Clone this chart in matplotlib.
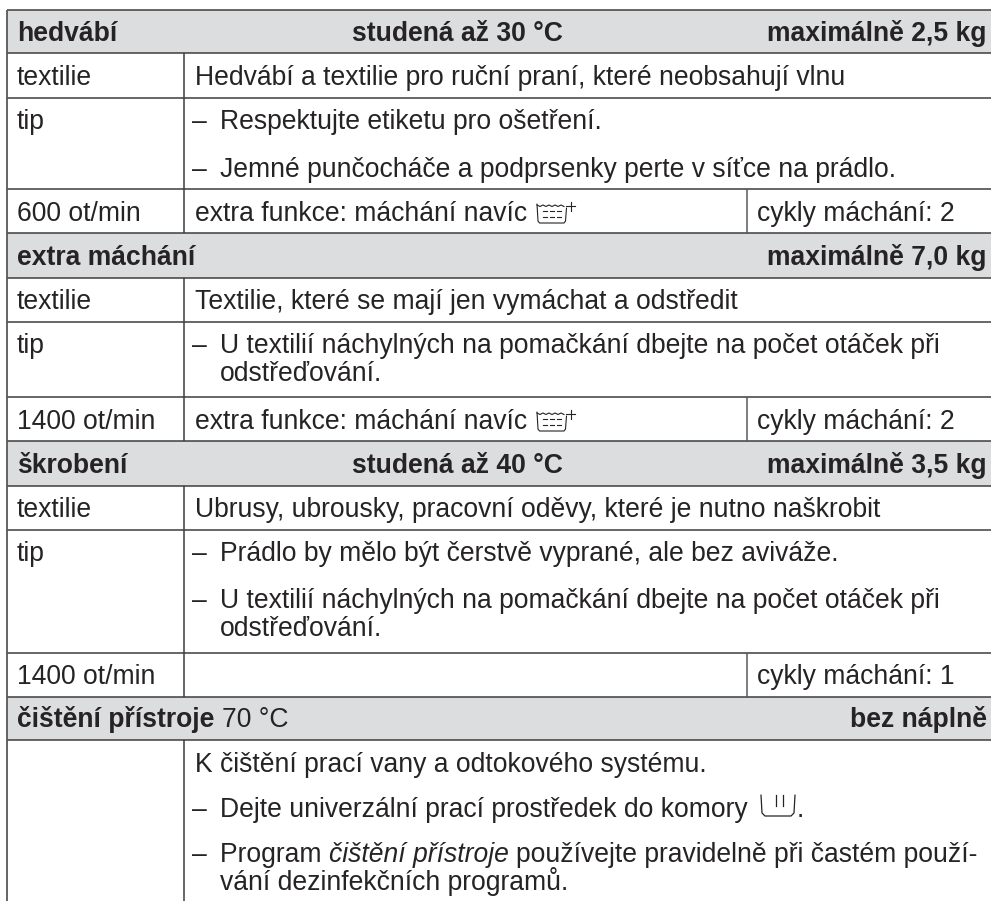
import matplotlib
matplotlib.use("Agg")
import matplotlib.pyplot as plt

plt.rcParams['font.family'] = ['Liberation Sans', 'DejaVu Sans']

TEXT = "#262324"
LINE = "#3d3d3e"
HEAD = "#dcddde"
FS = 19.1

# horizontal rules of the table, in order
rule_y = [10, 53, 98, 189, 233, 278, 322, 397, 441, 486, 530, 653, 697, 740]
header_rows = [0, 4, 8, 12]  # index into rule_y of the top of grey bands
col1_x, col2_x = 184, 747
split_rows = [3, 7, 11]  # rows that also have the third column

headers_left = ["hedvábí", "extra máchání", "škrobení", "čištění přístroje"]
headers_mid = ["studená až 30 °C", "", "studená až 40 °C", ""]
headers_right = ["maximálně 2,5 kg", "maximálně 7,0 kg", "maximálně 3,5 kg", "bez náplně"]
header_base = [41, 265, 473, 727]

left_labels = ["textilie", "tip", "600 ot/min", "textilie", "tip", "1400 ot/min",
               "textilie", "tip", "1400 ot/min"]
left_base = [85, 129, 221, 309, 353, 429, 517, 561, 684]

plain_lines = [
    ("Hedvábí a textilie pro ruční praní, které neobsahují vlnu", 85),
    ("extra funkce: máchání navíc", 221),
    ("Textilie, které se mají jen vymáchat a odstředit", 309),
    ("extra funkce: máchání navíc", 429),
    ("Ubrusy, ubrousky, pracovní oděvy, které je nutno naškrobit", 517),
    ("K čištění prací vany a odtokového systému.", 772),
]
bullet_lines = [
    ("Respektujte etiketu pro ošetření.", 129, True),
    ("Jemné punčocháče a podprsenky perte v síťce na prádlo.", 177, True),
    ("U textilií náchylných na pomačkání dbejte na počet otáček při", 353, True),
    ("odstřeďování.", 381, False),
    ("Prádlo by mělo být čerstvě vyprané, ale bez aviváže.", 561, True),
    ("U textilií náchylných na pomačkání dbejte na počet otáček při", 608, True),
    ("odstřeďování.", 636, False),
    ("Dejte univerzální prací prostředek do komory", 817, True),
    ("vání dezinfekčních programů.", 890, False),
]
cycle_labels = ["cykly máchání: 2", "cykly máchání: 2", "cykly máchání: 1"]
cycle_base = [221, 429, 684]

fig = plt.figure(figsize=(9.91, 9.01), dpi=100)
ax = fig.add_axes([0, 0, 1, 1])
ax.set_xlim(0, 991)
ax.set_ylim(901, 0)
ax.axis("off")


def put(x, y, s, **kw):
    kw.setdefault("fontsize", FS)
    kw.setdefault("color", TEXT)
    return ax.text(x, y, s, va="baseline", **kw)


def advance(s, **kw):
    # width of a run incl. trailing spaces, in pixels
    rend = fig.canvas.get_renderer()
    t1 = put(0, 0, s + ".", **kw)
    t2 = put(0, 0, ".", **kw)
    w = t1.get_window_extent(rend).width - t2.get_window_extent(rend).width
    t1.remove()
    t2.remove()
    return w


def rinse_icon(x, top):
    # tub with waves, dashes and a plus sign
    lw = 0.8
    ax.plot([x, x + 1, x + 2.5, x + 27, x + 28.5, x + 29.5],
            [top + 1, top + 18, top + 20, top + 20, top + 18, top + 5],
            color=TEXT, lw=lw, solid_capstyle="round")
    ax.plot([x, x + 3, x + 6, x + 9, x + 12, x + 15, x + 18, x + 21, x + 24, x + 27],
            [top + 2, top + 3.5, top + 2, top + 3.5, top + 2, top + 3.5, top + 2, top + 3.5, top + 2, top + 3.5],
            color=TEXT, lw=lw)
    for yy in (top + 8, top + 14):
        for xx in (x + 6, x + 13, x + 20):
            ax.plot([xx, xx + 4], [yy, yy], color=TEXT, lw=lw)
    ax.plot([x + 29, x + 38], [top + 3, top + 3], color=TEXT, lw=lw)
    ax.plot([x + 33.5, x + 33.5], [top - 1, top + 7.5], color=TEXT, lw=lw)


def compartment_icon(x, top):
    lw = 0.9
    ax.plot([x, x + 1, x + 4, x + 30, x + 33, x + 34],
            [top, top + 18, top + 21, top + 21, top + 18, top],
            color=TEXT, lw=lw, solid_capstyle="round")
    ax.plot([x + 15, x + 15], [top, top + 11], color=TEXT, lw=lw)
    ax.plot([x + 22, x + 22], [top, top + 11], color=TEXT, lw=lw)


# grey header bands
for r in header_rows:
    ax.fill_between([7, 991], rule_y[r], rule_y[r + 1], color=HEAD, lw=0, zorder=0)

# rules
for y in rule_y:
    ax.plot([7, 991], [y, y], color=LINE, lw=1.1, solid_capstyle="butt", zorder=2)
ax.plot([7, 7], [10, 901], color="#58585a", lw=1.3, solid_capstyle="butt", zorder=2)

# column separators, skipping header bands
for r in range(len(rule_y)):
    if r in header_rows:
        continue
    y0 = rule_y[r]
    y1 = rule_y[r + 1] if r + 1 < len(rule_y) else 901
    ax.plot([col1_x, col1_x], [y0, y1], color=LINE, lw=1.1, solid_capstyle="butt", zorder=2)
    if r in split_rows:
        ax.plot([col2_x, col2_x], [y0, y1], color="#58585a", lw=1.1, solid_capstyle="butt", zorder=2)

# header text
for i in range(4):
    put(17, header_base[i], headers_left[i], fontweight="bold")
    if headers_mid[i]:
        put(352, header_base[i], headers_mid[i], fontweight="bold")
    put(986.5, header_base[i], headers_right[i], fontweight="bold", ha="right")
put(17 + advance(headers_left[3] + " ", fontweight="bold"), header_base[3], "70 °C")

for s, y in zip(left_labels, left_base):
    put(17, y, s)

for s, y in plain_lines:
    put(195, y, s)

for s, y, dash in bullet_lines:
    if dash:
        put(192, y, "–")
    put(220, y, s)

# mixed roman / italic line
put(192, 862, "–")
x = 220
put(x, 862, "Program ")
x += advance("Program ")
put(x, 862, "čištění přístroje", fontstyle="italic")
x += advance("čištění přístroje ", fontstyle="italic")
put(x, 862, "používejte pravidelně při častém použí-")

for s, y in zip(cycle_labels, cycle_base):
    put(757, y, s)

rinse_icon(537, 203)
rinse_icon(537, 411)
compartment_icon(761, 795)
put(797, 817, ".")

fig.savefig("out.png", dpi=100)
